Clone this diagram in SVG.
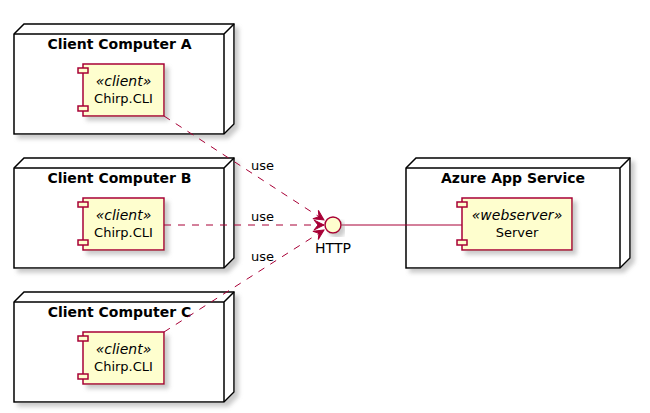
<svg xmlns="http://www.w3.org/2000/svg" width="650" height="413" viewBox="0 0 650 413">
<defs>
<filter id="sh" x="-10%" y="-10%" width="130%" height="130%">
<feGaussianBlur in="SourceAlpha" stdDeviation="2" result="b"/>
<feColorMatrix in="b" type="matrix" values="0 0 0 0 0.3  0 0 0 0 0.3  0 0 0 0 0.3  0 0 0 0.5 0" result="c"/>
<feOffset in="c" dx="4" dy="4" result="o"/>
<feMerge><feMergeNode in="o"/><feMergeNode in="SourceGraphic"/></feMerge>
</filter>
<marker id="arr" markerUnits="userSpaceOnUse" markerWidth="14" markerHeight="12" refX="12" refY="6" orient="auto" viewBox="0 0 14 12">
<path d="M12,6 L2,1 L6,6 L2,11 Z" fill="#A80036" stroke="#A80036" stroke-width="1"/>
</marker>
</defs>
<style>
.node{fill:#FFFFFF;stroke:#000000;stroke-width:1.5}
.edge{fill:none;stroke:#000000;stroke-width:1.5}
.comp{fill:#FEFECE;stroke:#A80036;stroke-width:1.5}
.title{font-family:"DejaVu Sans",sans-serif;font-size:14px;font-weight:bold;fill:#000;text-anchor:middle}
.st{font-family:"DejaVu Sans",sans-serif;font-size:14px;font-style:italic;fill:#000;text-anchor:middle}
.nm{font-family:"DejaVu Sans",sans-serif;font-size:13px;fill:#000;text-anchor:middle}
.lbl{font-family:"DejaVu Sans",sans-serif;font-size:13px;fill:#000;text-anchor:middle}
.dash{fill:none;stroke:#A80036;stroke-width:1;stroke-dasharray:7,7}
.solid{fill:none;stroke:#A80036;stroke-width:1}
</style>

<g id="nodeA">
<path class="node" filter="url(#sh)" d="M14,34 L24,24 L234,24 L234,124 L224,134 L14,134 Z"/>
<path class="edge" d="M14,34 L224,34 L224,134 M224,34 L234,24"/>
<text class="title" x="119.5" y="49">Client Computer A</text>
</g>
<g id="compA">
<rect class="comp" filter="url(#sh)" x="83" y="64" width="81" height="52"/>
<rect class="comp" x="78" y="68" width="10" height="5"/>
<rect class="comp" x="78" y="106" width="10" height="5"/>
<text class="st" x="123.5" y="86">«client»</text>
<text class="nm" x="123.5" y="103">Chirp.CLI</text>
</g>

<g id="nodeB">
<path class="node" filter="url(#sh)" d="M14,168 L24,158 L234,158 L234,258 L224,268 L14,268 Z"/>
<path class="edge" d="M14,168 L224,168 L224,268 M224,168 L234,158"/>
<text class="title" x="119.5" y="183">Client Computer B</text>
</g>
<g id="compB">
<rect class="comp" filter="url(#sh)" x="83" y="198" width="81" height="52"/>
<rect class="comp" x="78" y="202" width="10" height="5"/>
<rect class="comp" x="78" y="240" width="10" height="5"/>
<text class="st" x="123.5" y="220">«client»</text>
<text class="nm" x="123.5" y="237">Chirp.CLI</text>
</g>

<g id="nodeC">
<path class="node" filter="url(#sh)" d="M14,302 L24,292 L234,292 L234,392 L224,402 L14,402 Z"/>
<path class="edge" d="M14,302 L224,302 L224,402 M224,302 L234,292"/>
<text class="title" x="119.5" y="317">Client Computer C</text>
</g>
<g id="compC">
<rect class="comp" filter="url(#sh)" x="83" y="332" width="81" height="52"/>
<rect class="comp" x="78" y="336" width="10" height="5"/>
<rect class="comp" x="78" y="374" width="10" height="5"/>
<text class="st" x="123.5" y="354">«client»</text>
<text class="nm" x="123.5" y="371">Chirp.CLI</text>
</g>

<g id="nodeAzure">
<path class="node" filter="url(#sh)" d="M406,168 L416,158 L630,158 L630,258 L620,268 L406,268 Z"/>
<path class="edge" d="M406,168 L620,168 L620,268 M620,168 L630,158"/>
<text class="title" x="513" y="183">Azure App Service</text>
</g>
<g id="compServer">
<rect class="comp" filter="url(#sh)" x="462" y="198" width="110" height="52"/>
<rect class="comp" x="457" y="202" width="10" height="5"/>
<rect class="comp" x="457" y="240" width="10" height="5"/>
<text class="st" x="517" y="220">«webserver»</text>
<text class="nm" x="517" y="237">Server</text>
</g>

<g id="connectors">
<line class="solid" x1="341" y1="225" x2="462" y2="225"/>
<line class="dash" x1="164" y1="116" x2="324" y2="220" marker-end="url(#arr)"/>
<line class="dash" x1="164" y1="225" x2="324" y2="225" marker-end="url(#arr)"/>
<line class="dash" x1="164" y1="332" x2="324" y2="230" marker-end="url(#arr)"/>
<text class="lbl" x="262.5" y="169.5">use</text>
<text class="lbl" x="262.5" y="220.5">use</text>
<text class="lbl" x="262.5" y="260.5">use</text>
</g>

<g id="http">
<circle class="comp" filter="url(#sh)" cx="333" cy="225" r="8"/>
<text class="nm" style="font-size:14px" x="333" y="252.5">HTTP</text>
</g>
</svg>
